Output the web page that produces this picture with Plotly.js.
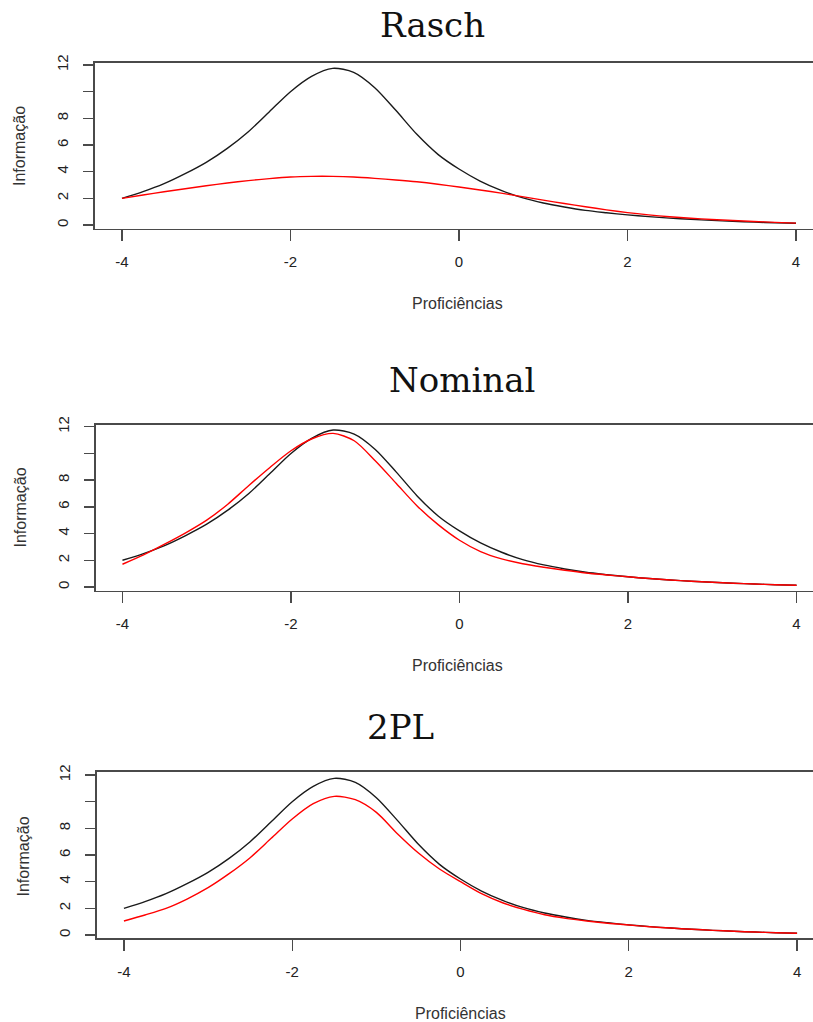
<!DOCTYPE html>
<html>
<head>
<meta charset="utf-8">
<script src="https://cdn.plot.ly/plotly-3.0.1.min.js"></script>
<style>
  html, body { margin: 0; padding: 0; background: #fff; overflow: hidden; }
  #chart { width: 840px; height: 1022px; }
</style>
</head>
<body>
<div id="chart"></div>
<script>
// Proficiency grid (theta)
const theta = [-4, -3.75, -3.5, -3.25, -3, -2.75, -2.5, -2.25, -2, -1.75, -1.5, -1.25, -1, -0.75, -0.5, -0.25,
               0, 0.25, 0.5, 0.75, 1, 1.25, 1.5, 1.75, 2, 2.25, 2.5, 2.75, 3, 3.25, 3.5, 3.75, 4];

// Black curve (same reference information curve in the three panels)
const infoBlack = [2.0, 2.5, 3.1, 3.85, 4.7, 5.75, 7.0, 8.5, 10.0, 11.15, 11.75, 11.45, 10.3, 8.6, 6.8, 5.3,
                   4.2, 3.3, 2.6, 2.05, 1.65, 1.35, 1.1, 0.92, 0.76, 0.63, 0.52, 0.43, 0.35, 0.28, 0.22, 0.17, 0.13];

// Red curves
const infoRasch = [2.0, 2.25, 2.5, 2.72, 2.95, 3.15, 3.33, 3.48, 3.6, 3.65, 3.65, 3.6, 3.5, 3.38, 3.24, 3.06,
                   2.85, 2.63, 2.39, 2.13, 1.87, 1.61, 1.37, 1.14, 0.93, 0.76, 0.62, 0.51, 0.42, 0.34, 0.27, 0.2, 0.14];
const infoNominal = [1.7, 2.4, 3.2, 4.05, 5.0, 6.2, 7.6, 8.95, 10.2, 11.1, 11.5, 10.95, 9.45, 7.75, 6.05, 4.65,
                     3.5, 2.65, 2.1, 1.74, 1.48, 1.25, 1.05, 0.9, 0.76, 0.63, 0.52, 0.43, 0.35, 0.28, 0.22, 0.17, 0.13];
const info2PL = [1.05, 1.5, 2.0, 2.7, 3.55, 4.6, 5.8, 7.25, 8.7, 9.85, 10.4, 10.15, 9.2, 7.6, 6.15, 4.95,
                 4.0, 3.1, 2.42, 1.92, 1.52, 1.25, 1.05, 0.88, 0.75, 0.62, 0.52, 0.43, 0.35, 0.28, 0.22, 0.17, 0.13];

const panelTitles = ["Rasch", "Nominal", "2PL"];
const xTitle = "Proficiências";
const yTitle = "Informação";
const xTickVals = [-4, -2, 0, 2, 4];
const xTickText = ["-4", "-2", "0", "2", "4"];
const yTickVals = [0, 2, 4, 6, 8, 10, 12];
const yTickText = ["0", "2", "4", "6", "8", "", "12"];

const W = 840, H = 1022;
const redSeries = [infoRasch, infoNominal, info2PL];

// pixel geometry per panel
const panels = [
  {l: 95, r: 823, t: 63, b: 228.5, yr: [-0.26, 12.15], title: [432.5, 25.5], xt: [458, 303.5], yt: [20, 146]},
  {l: 95.5, r: 823.5, t: 425, b: 590.7, yr: [-0.28, 12.13], title: [462, 380], xt: [458, 665], yt: [20, 507.5]},
  {l: 97, r: 824, t: 771.7, b: 938, yr: [-0.225, 12.25], title: [400.5, 727], xt: [460, 1013], yt: [23, 856.5]}
];

const data = [];
const layout = {
  width: W, height: H,
  margin: {l: 0, r: 0, t: 0, b: 0},
  paper_bgcolor: "#ffffff",
  plot_bgcolor: "#ffffff",
  showlegend: false,
  annotations: []
};

const lineCol = "#4a4a4a";
panels.forEach((p, i) => {
  const n = i === 0 ? "" : String(i + 1);
  data.push({x: theta, y: infoBlack, type: "scatter", mode: "lines",
             line: {color: "#1a1a1a", width: 1.4, shape: "spline", smoothing: 0.8},
             xaxis: "x" + n, yaxis: "y" + n, hoverinfo: "skip"});
  data.push({x: theta, y: redSeries[i], type: "scatter", mode: "lines",
             line: {color: "#ff0000", width: 1.4, shape: "spline", smoothing: 0.8},
             xaxis: "x" + n, yaxis: "y" + n, hoverinfo: "skip"});
  layout["xaxis" + n] = {
    domain: [p.l / W, p.r / W], range: [-4.32, 4.32], anchor: "y" + n,
    showgrid: false, zeroline: false, showline: true, mirror: true,
    linecolor: lineCol, linewidth: 1.6,
    ticks: "outside", ticklen: 11, tickwidth: 1.4, tickcolor: lineCol,
    tickvals: xTickVals, ticktext: xTickText,
    ticklabelstandoff: 8,
    tickfont: {family: "Liberation Sans, Arial, sans-serif", size: 15, color: "#222"}
  };
  layout["yaxis" + n] = {
    domain: [1 - p.b / H, 1 - p.t / H], range: p.yr, anchor: "x" + n,
    showgrid: false, zeroline: false, showline: true, mirror: true,
    linecolor: lineCol, linewidth: 1.6,
    ticks: "outside", ticklen: 10, tickwidth: 1.4, tickcolor: lineCol,
    tickvals: yTickVals, ticktext: yTickText, tickangle: -90,
    ticklabelstandoff: 9,
    tickfont: {family: "Liberation Sans, Arial, sans-serif", size: 15, color: "#222"}
  };
  layout.annotations.push({
    text: panelTitles[i], xref: "paper", yref: "paper",
    x: p.title[0] / W, y: 1 - p.title[1] / H, xanchor: "center", yanchor: "middle",
    showarrow: false, font: {family: "DejaVu Serif, serif", size: 34, color: "#111"}
  });
  layout.annotations.push({
    text: xTitle, xref: "paper", yref: "paper",
    x: p.xt[0] / W, y: 1 - p.xt[1] / H, xanchor: "center", yanchor: "middle",
    showarrow: false, font: {family: "Liberation Sans, Arial, sans-serif", size: 16, color: "#333"}
  });
  layout.annotations.push({
    text: yTitle, xref: "paper", yref: "paper", textangle: -90,
    x: p.yt[0] / W, y: 1 - p.yt[1] / H, xanchor: "center", yanchor: "middle",
    showarrow: false, font: {family: "Liberation Sans, Arial, sans-serif", size: 16, color: "#333"}
  });
});

Plotly.newPlot("chart", data, layout, {staticPlot: true, displayModeBar: false});
</script>
</body>
</html>
